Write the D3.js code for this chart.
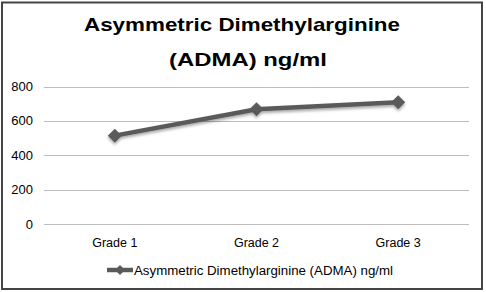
<!DOCTYPE html>
<html>
<head>
<meta charset="utf-8">
<script src="https://cdn.jsdelivr.net/npm/d3@7"></script>
<style>
  body { margin: 0; background: #fff; }
  text { font-family: "Liberation Sans", Arial, sans-serif; fill: #000; }
</style>
</head>
<body>
<div id="chart"></div>
<script>
// Data
const grades = ["Grade 1", "Grade 2", "Grade 3"];
const admaValues = [514, 668, 708];
const yTicks = [0, 200, 400, 600, 800];
const seriesName = "Asymmetric Dimethylarginine (ADMA) ng/ml";
const titleLines = ["Asymmetric Dimethylarginine", "(ADMA) ng/ml"];

const W = 486, H = 292;

const svg = d3.select("#chart")
  .append("svg")
  .attr("width", W)
  .attr("height", H);

// shadow filter
const defs = svg.append("defs");
const f = defs.append("filter").attr("id", "shadow")
  .attr("x", "-20%").attr("y", "-20%").attr("width", "140%").attr("height", "160%");
f.append("feDropShadow")
  .attr("dx", 0).attr("dy", 2).attr("stdDeviation", 1.5)
  .attr("flood-color", "#000").attr("flood-opacity", 0.35);

// frame
svg.append("rect")
  .attr("x", 2).attr("y", 2.5)
  .attr("width", 480).attr("height", 286.5)
  .attr("fill", "#fff")
  .attr("stroke", "#444")
  .attr("stroke-width", 2);

// Title
svg.append("g")
  .selectAll("text")
  .data(titleLines)
  .join("text")
  .attr("x", (d, i) => i == 0 ? 242 : 248)
  .attr("y", (d, i) => 31 + i * 35)
  .attr("text-anchor", "middle")
  .attr("font-size", 19)
  .attr("font-weight", "bold")
  .attr("textLength", (d, i) => i == 0 ? 316 : 158)
  .attr("lengthAdjust", "spacingAndGlyphs")
  .text(d => d);

// Scales
const x = d3.scalePoint()
  .domain(grades)
  .range([44, 469])
  .padding(0.5);

const y = d3.scaleLinear()
  .domain([0, 800])
  .range([224, 86.5]);

// Gridlines
svg.append("g")
  .selectAll("line")
  .data(yTicks)
  .join("line")
  .attr("x1", 44).attr("x2", 469)
  .attr("y1", d => Math.round(y(d)) + 0.5)
  .attr("y2", d => Math.round(y(d)) + 0.5)
  .attr("stroke", "#bdbdbd")
  .attr("stroke-width", 1);

// Y tick labels
svg.append("g")
  .selectAll("text")
  .data(yTicks)
  .join("text")
  .attr("x", 33)
  .attr("y", d => y(d) + 4.5)
  .attr("text-anchor", "end")
  .attr("font-size", 13)
  .text(d => d);

// X labels
svg.append("g")
  .selectAll("text")
  .data(grades)
  .join("text")
  .attr("x", d => x(d))
  .attr("y", 247)
  .attr("text-anchor", "middle")
  .attr("font-size", 12.5)
  .text(d => d);

// Line + markers
const data = grades.map((g, i) => ({ grade: g, value: admaValues[i] }));
const line = d3.line().x(d => x(d.grade)).y(d => y(d.value));

const series = svg.append("g").attr("filter", "url(#shadow)");
series.append("path")
  .datum(data)
  .attr("d", line)
  .attr("fill", "none")
  .attr("stroke", "#5a5a5a")
  .attr("stroke-width", 4.5)
  .attr("stroke-linejoin", "round");

const diamond = s => `M0,${-s}L${s},0L0,${s}L${-s},0Z`;
series.selectAll(".marker")
  .data(data)
  .join("path")
  .attr("class", "marker")
  .attr("transform", d => `translate(${x(d.grade)},${y(d.value)})`)
  .attr("d", diamond(7))
  .attr("fill", "#5a5a5a");

// Legend
const legend = svg.append("g").attr("transform", "translate(107,270)");
legend.append("line")
  .attr("x1", 0).attr("x2", 26)
  .attr("y1", 0).attr("y2", 0)
  .attr("stroke", "#5a5a5a")
  .attr("stroke-width", 4.5);
legend.append("path")
  .attr("transform", "translate(13,0)")
  .attr("d", diamond(5))
  .attr("fill", "#5a5a5a");
legend.append("text")
  .attr("x", 27)
  .attr("y", 4.5)
  .attr("font-size", 12.5)
  .attr("textLength", 259)
  .attr("lengthAdjust", "spacingAndGlyphs")
  .text(seriesName);
</script>
</body>
</html>
